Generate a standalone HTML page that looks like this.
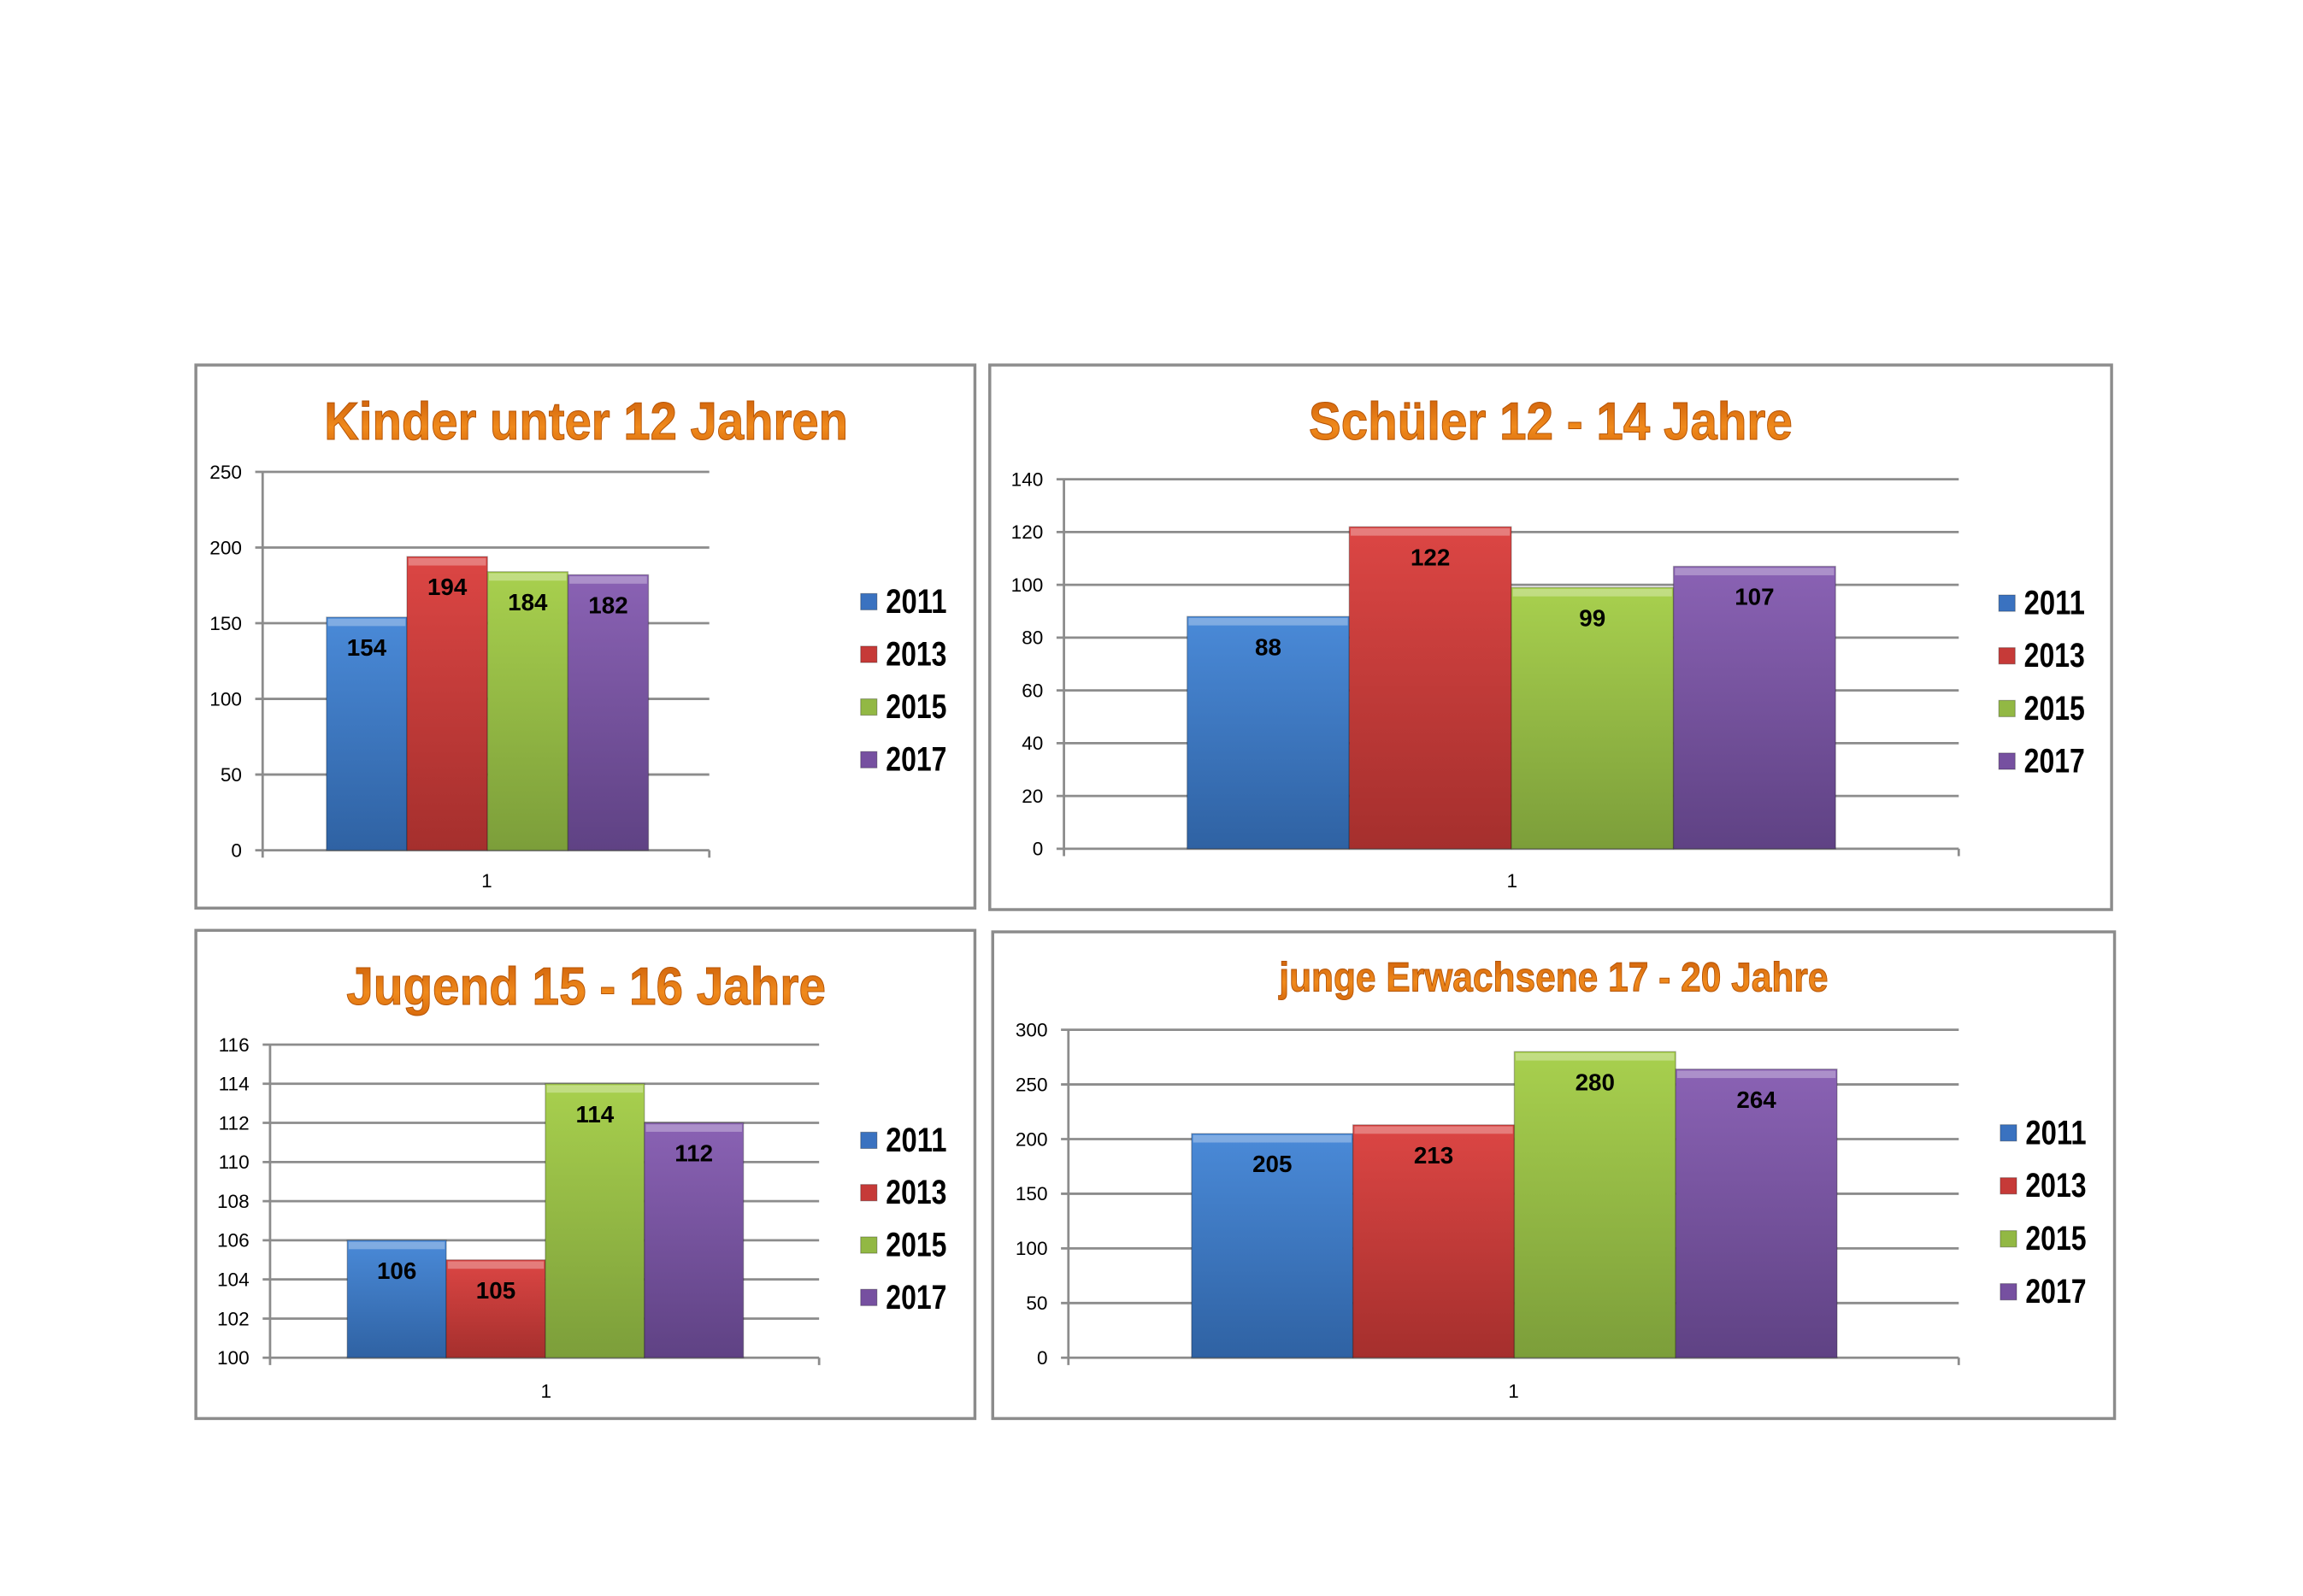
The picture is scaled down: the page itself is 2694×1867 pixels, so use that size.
<!DOCTYPE html>
<html><head><meta charset="utf-8"><style>
html,body{margin:0;padding:0;background:#fff;}
svg{display:block;}
</style></head><body>
<svg id="root" width="2694" height="1867" viewBox="0 0 1552 1075.6" preserveAspectRatio="none" xmlns="http://www.w3.org/2000/svg">
<defs>
<linearGradient id="gBlue" x1="0" y1="0" x2="0" y2="1"><stop offset="0" stop-color="#4a8ad8"/><stop offset="1" stop-color="#2f62a3"/></linearGradient>
<linearGradient id="gRed" x1="0" y1="0" x2="0" y2="1"><stop offset="0" stop-color="#dc4644"/><stop offset="1" stop-color="#a52f2d"/></linearGradient>
<linearGradient id="gGreen" x1="0" y1="0" x2="0" y2="1"><stop offset="0" stop-color="#a8d04e"/><stop offset="1" stop-color="#7c9e3a"/></linearGradient>
<linearGradient id="gPurple" x1="0" y1="0" x2="0" y2="1"><stop offset="0" stop-color="#8a62b4"/><stop offset="1" stop-color="#5f4284"/></linearGradient>
<linearGradient id="gTitle" x1="0" y1="0" x2="0" y2="1"><stop offset="0" stop-color="#c95a08"/><stop offset="0.6" stop-color="#f08a1c"/><stop offset="1" stop-color="#d86a0c"/></linearGradient>
</defs>
</svg>
<script>
// data
const seriesNames = ["2011","2013","2015","2017"];
const categories = ["1"];
const titles = ["Kinder unter 12 Jahren","Schüler 12 - 14 Jahre","Jugend 15 - 16 Jahre","junge Erwachsene 17 - 20 Jahre"];
const valuesKinder = [154,194,184,182];
const valuesSchueler = [88,122,99,107];
const valuesJugend = [106,105,114,112];
const valuesErwachsene = [205,213,280,264];
const ticksKinder = [0,50,100,150,200,250];
const ticksSchueler = [0,20,40,60,80,100,120,140];
const ticksJugend = [100,102,104,106,108,110,112,114,116];
const ticksErwachsene = [0,50,100,150,200,250,300];

const fills=["url(#gBlue)","url(#gRed)","url(#gGreen)","url(#gPurple)"];
const legendFills=["#3a72c0","#c63a38","#92b844","#7650a0"];
const NS="http://www.w3.org/2000/svg";
const root=document.getElementById('root');
function mk(tag,attrs,parent,text){const e=document.createElementNS(NS,tag);for(const k in attrs)e.setAttribute(k,attrs[k]);if(text!==undefined)e.textContent=text;(parent||root).appendChild(e);return e;}

const layouts=[
 {name:'kinder',box:[132,246,525,366],title:[395,296,353,36],ax:177,gx2:478,yTop:318,yBot:573,bx1:220,bx2:437,leg:[580,405,35.5],cat:[328,598],vals:valuesKinder,ticks:ticksKinder},
 {name:'schueler',box:[667,246,756,367],title:[1045,296,326,36],ax:717,gx2:1320,yTop:323,yBot:572,bx1:800,bx2:1237,leg:[1347,406,35.5],cat:[1019,598],vals:valuesSchueler,ticks:ticksSchueler},
 {name:'jugend',box:[132,627,525,329],title:[395,677,323,36],ax:182,gx2:552,yTop:704,yBot:915,bx1:234,bx2:501,leg:[580,768,35.3],cat:[368,942],vals:valuesJugend,ticks:ticksJugend},
 {name:'erwachsene',box:[669,628,756,328],title:[1047,668,370,28],ax:720,gx2:1320,yTop:694,yBot:915,bx1:803,bx2:1238,leg:[1348,763,35.7],cat:[1020,942],vals:valuesErwachsene,ticks:ticksErwachsene}
];

layouts.forEach((L,ci)=>{
 const g=mk('g',{});
 
 
 const fr=mk('rect',{x:L.box[0],y:L.box[1],width:L.box[2],height:L.box[3],fill:'#fff',stroke:'#8c8c8c','stroke-width':2},g);
 
 
 const t=mk('text',{x:L.title[0],y:L.title[1],'text-anchor':'middle','font-family':'Liberation Sans Narrow, Liberation Sans, sans-serif','font-weight':'bold','font-size':L.title[3],fill:'url(#gTitle)',stroke:'#b55406','stroke-width':0.6,textLength:L.title[2],lengthAdjust:'spacingAndGlyphs'},g,titles[ci]);
 
 
 const t0=L.ticks[0],t1=L.ticks[L.ticks.length-1];
 const y=v=>L.yBot-(v-t0)/(t1-t0)*(L.yBot-L.yTop);
 L.ticks.forEach(v=>{
  const gl=mk('line',{x1:L.ax-5,x2:L.gx2,y1:y(v),y2:y(v),stroke:'#8c8c8c','stroke-width':1.6},g);
  
  
  const tl=mk('text',{x:L.ax-14,y:y(v)+4.5,'text-anchor':'end','font-family':'Liberation Sans, sans-serif','font-size':13,fill:'#000'},g,String(v));
  
  
 });
 const axl=mk('line',{x1:L.ax,x2:L.ax,y1:L.yTop,y2:L.yBot+5,stroke:'#8c8c8c','stroke-width':1.6},g);
 
 
 const axr=mk('line',{x1:L.gx2,x2:L.gx2,y1:L.yBot,y2:L.yBot+5,stroke:'#8c8c8c','stroke-width':1.6},g);
 
 
 const bw=(L.bx2-L.bx1)/L.vals.length;
 L.vals.forEach((v,i)=>{
  const x=L.bx1+i*bw, yt=y(v);
  const r=mk('rect',{x:x,y:yt,width:bw,height:L.yBot-yt,fill:fills[i],stroke:'rgba(0,0,0,0.25)','stroke-width':0.8},g);
  
  
  const hl=mk('rect',{x:x+1,y:yt+1,width:bw-2,height:5,fill:'rgba(255,255,255,0.3)'},g);
  
  
  const vl=mk('text',{x:x+bw/2,y:yt+26,'text-anchor':'middle','font-family':'Liberation Sans, sans-serif','font-weight':'bold','font-size':16,fill:'#000'},g,String(v));
  
  
 });
 const cl=mk('text',{x:L.cat[0],y:L.cat[1],'text-anchor':'middle','font-family':'Liberation Sans, sans-serif','font-size':13,fill:'#000'},g,categories[0]);
 
 
 seriesNames.forEach((s,i)=>{
  const ly=L.leg[1]+i*L.leg[2];
  const lg=mk('g',{},g);
  
  
  mk('rect',{x:L.leg[0],y:ly-5,width:11,height:11,fill:legendFills[i],stroke:'rgba(0,0,0,0.3)','stroke-width':0.6},lg);
  mk('text',{x:L.leg[0]+17,y:ly+8,'font-family':'Liberation Sans Narrow, Liberation Sans, sans-serif','font-weight':'bold','font-size':23,fill:'#000',textLength:41,lengthAdjust:'spacingAndGlyphs'},lg,s);
 });
});
</script>
</body></html>
